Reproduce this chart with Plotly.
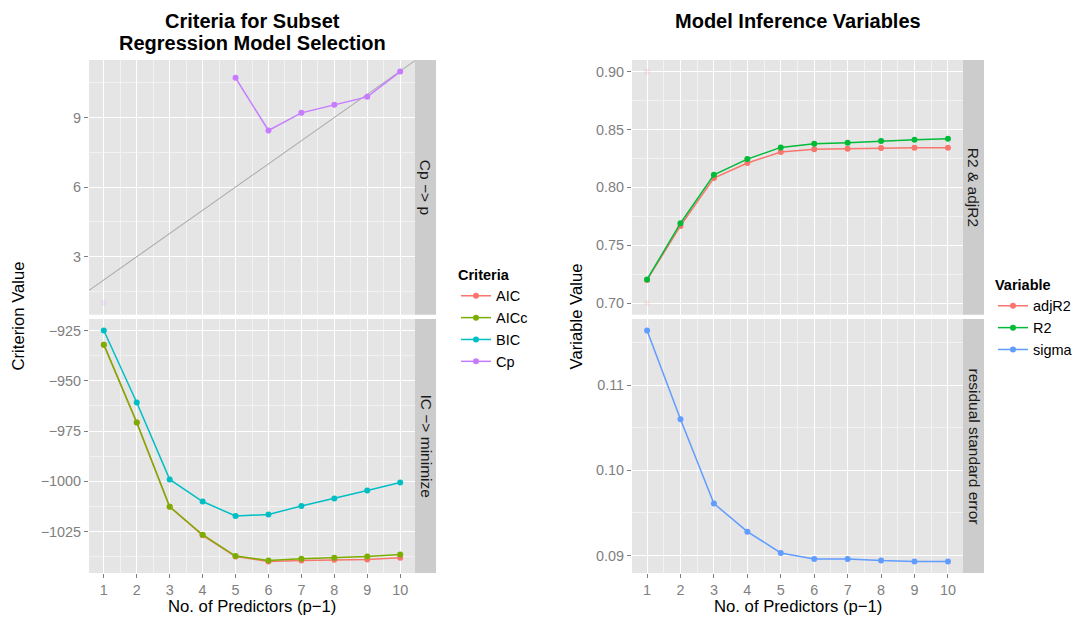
import plotly.graph_objects as go

# ---- data -------------------------------------------------------------
predictors = [1, 2, 3, 4, 5, 6, 7, 8, 9, 10]

aic = [-932.0, -970.7, -1012.6, -1026.8, -1037.3, -1039.8, -1039.3, -1039.0, -1038.8, -1038.0]
aicc = [-932.0, -970.7, -1012.6, -1026.5, -1037.1, -1039.3, -1038.4, -1037.9, -1037.3, -1036.3]
bic = [-925.0, -960.8, -999.0, -1010.0, -1017.2, -1016.5, -1012.2, -1008.5, -1004.5, -1000.5]
cp = [None, None, None, None, 10.71, 8.44, 9.20, 9.55, 9.89, 10.98]

r2 = [0.7205, 0.7690, 0.8108, 0.8244, 0.8345, 0.8377, 0.8385, 0.8400, 0.8411, 0.8420]
adj_r2 = [0.7200, 0.7667, 0.8080, 0.8210, 0.8305, 0.8330, 0.8333, 0.8339, 0.8342, 0.8342]
sigma = [0.1164, 0.1060, 0.0961, 0.0928, 0.0903, 0.0896, 0.0896, 0.0894, 0.0893, 0.0893]

# invisible points that fix the facet limits
cp_limit_x, cp_limit_y = [1], [1.0]
r2_limit_x, r2_limit_y = [1, 1], [0.70, 0.90]

# Cp reference line: Cp = p = predictors + 1
cp_ref_intercept, cp_ref_slope = 1.0, 1.0

cp_ticks = [3, 6, 9]
ic_ticks = [-925, -950, -975, -1000, -1025]
r2_ticks = [0.70, 0.75, 0.80, 0.85, 0.90]
sigma_ticks = [0.09, 0.10, 0.11]

# ---- styling ----------------------------------------------------------
W, H = 1076, 619
FONT = "Liberation Sans"
COL = {"AIC": "#F8766D", "AICc": "#7CAE00", "BIC": "#00BFC4", "Cp": "#C77CFF",
       "adjR2": "#F8766D", "R2": "#00BA38", "sigma": "#619CFF"}
PANEL_BG = "#E5E5E5"
STRIP_BG = "#CCCCCC"

# pixel boxes of the panels
LX = (89, 415)
RX = (632, 963)
TOP_Y = (60, 314.7)
BOT_Y = (319, 573)
STRIP_W = 21


def px_x(a, b):
    return [a / W, b / W]


def px_y(top, bottom):
    return [1 - bottom / H, 1 - top / H]


def expand(vals, mult=0.05):
    v = [x for x in vals if x is not None]
    lo, hi = min(v), max(v)
    d = (hi - lo) * mult
    return [lo - d, hi + d]


xrange_ = expand(predictors, 0.05)

fig = go.Figure()


def line_trace(y, name, xa, ya, legend, x=predictors):
    return go.Scatter(
        x=x, y=y, name=name, mode="lines+markers",
        line=dict(color=COL[name], width=1.5),
        marker=dict(color=COL[name], size=6),
        xaxis=xa, yaxis=ya, legend=legend, connectgaps=False,
    )


# left-top: Cp with its reference line
fig.add_trace(go.Scatter(
    x=[xrange_[0], xrange_[1]],
    y=[cp_ref_intercept + cp_ref_slope * xrange_[0], cp_ref_intercept + cp_ref_slope * xrange_[1]],
    mode="lines", line=dict(color="#ADADAD", width=1.1), showlegend=False,
    xaxis="x", yaxis="y", hoverinfo="skip"))
fig.add_trace(go.Scatter(x=cp_limit_x, y=cp_limit_y, mode="markers",
                         marker=dict(color=COL["Cp"], size=6, opacity=0.12),
                         showlegend=False, xaxis="x", yaxis="y"))

# left-bottom: information criteria (legend order AIC, AICc, BIC, Cp)
fig.add_trace(line_trace(aic, "AIC", "x2", "y2", "legend"))
fig.add_trace(line_trace(aicc, "AICc", "x2", "y2", "legend"))
fig.add_trace(line_trace(bic, "BIC", "x2", "y2", "legend"))
fig.add_trace(line_trace(cp, "Cp", "x", "y", "legend"))

# right-top: R2 / adjR2
fig.add_trace(go.Scatter(x=r2_limit_x, y=r2_limit_y, mode="markers",
                         marker=dict(color=COL["adjR2"], size=6, opacity=0.12),
                         showlegend=False, xaxis="x3", yaxis="y3"))
fig.add_trace(line_trace(adj_r2, "adjR2", "x3", "y3", "legend2"))
fig.add_trace(line_trace(r2, "R2", "x3", "y3", "legend2"))
# right-bottom: sigma
fig.add_trace(line_trace(sigma, "sigma", "x4", "y4", "legend2"))

tickfont = dict(family=FONT, size=14.4, color="#7F7F7F")
grid_common = dict(showgrid=True, gridcolor="white", gridwidth=1.4, zeroline=False,
                   showline=False, ticks="outside", ticklen=4, tickwidth=1,
                   tickcolor="#7F7F7F", tickfont=tickfont, automargin=False)


def xaxis(domain, anchor, show_labels):
    d = dict(grid_common)
    d.update(domain=domain, anchor=anchor, range=xrange_, tickmode="array",
             tickvals=predictors, ticktext=[str(p) for p in predictors],
             minor=dict(dtick=0.5, tick0=0.5, showgrid=True, gridcolor="#F2F2F2", gridwidth=0.7),
             showticklabels=show_labels)
    if not show_labels:
        d["ticks"] = ""
    return d


def yaxis(domain, anchor, rng, ticks, minor_dtick, minor_tick0, fmt):
    d = dict(grid_common)
    d.update(domain=domain, anchor=anchor, range=rng, tickmode="array",
             tickvals=ticks, ticktext=[fmt(t) for t in ticks],
             minor=dict(dtick=minor_dtick, tick0=minor_tick0, showgrid=True,
                        gridcolor="#F2F2F2", gridwidth=0.7))
    return d


def neg(t):
    return ("\u2212" + str(abs(t))) if t < 0 else str(t)


legend_style = dict(xanchor="left", yanchor="top", bgcolor="rgba(0,0,0,0)",
                    itemwidth=30, tracegroupgap=0,
                    font=dict(family=FONT, size=14.5, color="black"))

fig.update_layout(
    width=W, height=H,
    margin=dict(l=0, r=0, t=0, b=0, autoexpand=False),
    paper_bgcolor="white", plot_bgcolor=PANEL_BG,
    font=dict(family=FONT, color="#1A1A1A"),
    xaxis=xaxis(px_x(*LX), "y", False),
    yaxis=yaxis(px_y(*TOP_Y), "x", expand(cp_limit_y + cp), cp_ticks, 1.5, 0, str),
    xaxis2=xaxis(px_x(*LX), "y2", True),
    yaxis2=yaxis(px_y(*BOT_Y), "x2", expand(aic + aicc + bic), ic_ticks, 12.5, 0, neg),
    xaxis3=xaxis(px_x(*RX), "y3", False),
    yaxis3=yaxis(px_y(*TOP_Y), "x3", expand(r2_limit_y + r2 + adj_r2), r2_ticks, 0.025, 0,
                 lambda t: f"{t:.2f}"),
    xaxis4=xaxis(px_x(*RX), "y4", True),
    yaxis4=yaxis(px_y(*BOT_Y), "x4", expand(sigma), sigma_ticks, 0.005, 0,
                 lambda t: f"{t:.2f}"),
    legend=dict(legend_style, x=456 / W, y=1 - 261 / H,
                title=dict(text="<b>Criteria</b>", font=dict(family=FONT, size=14.5, color="black"))),
    legend2=dict(legend_style, x=993 / W, y=1 - 271 / H,
                 title=dict(text="<b>Variable</b>", font=dict(family=FONT, size=14.5, color="black"))),
    showlegend=True,
)

shapes = []
annotations = []


def note(text, xpx, ypx, size, color="black", angle=0):
    annotations.append(dict(text=text, xref="paper", yref="paper",
                            x=xpx / W, y=1 - ypx / H, xanchor="center", yanchor="middle",
                            textangle=angle, showarrow=False,
                            font=dict(family=FONT, size=size, color=color)))


# facet strips
strips = [
    (LX, TOP_Y, "Cp \u2212> p"),
    (LX, BOT_Y, "IC \u2212> minimize"),
    (RX, TOP_Y, "R2 & adjR2"),
    (RX, BOT_Y, "residual standard error"),
]
for (xa, xb), (yt, yb), label in strips:
    x0, x1 = xb, xb + STRIP_W
    shapes.append(dict(type="rect", xref="paper", yref="paper",
                       x0=x0 / W, x1=x1 / W, y0=1 - yb / H, y1=1 - yt / H,
                       fillcolor=STRIP_BG, line=dict(width=0), layer="below"))
    note(label, (x0 + x1) / 2, (yt + yb) / 2, 15.5, "#1A1A1A", 90)

# titles
lc = (LX[0] + LX[1]) / 2
rc = (RX[0] + RX[1]) / 2
note("<b>Criteria for Subset</b>", lc, 21, 20)
note("<b>Regression Model Selection</b>", lc, 43, 20)
note("<b>Model Inference Variables</b>", rc, 21, 20)

# axis titles
for xc in (lc, rc):
    note("No. of Predictors (p\u22121)", xc, 606, 16.7)
note("Criterion Value", 18, (TOP_Y[0] + BOT_Y[1]) / 2, 16.7, angle=-90)
note("Variable Value", 576, (TOP_Y[0] + BOT_Y[1]) / 2, 16.7, angle=-90)

fig.update_layout(shapes=shapes, annotations=annotations)

fig.write_html("out.html")
